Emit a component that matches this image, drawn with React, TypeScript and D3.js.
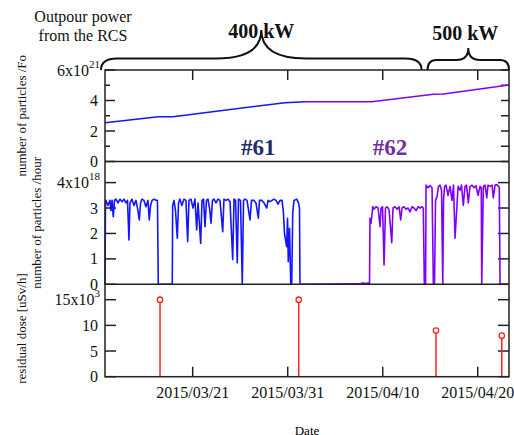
import { useEffect, useRef } from "react";
import * as d3 from "d3";

// time axis: days counted from 2015-03-01 00:00
const dayRange = [10.77, 53.29];
const tickDates = ["2015/03/21", "2015/03/31", "2015/04/10", "2015/04/20"];

// accumulated particles (x10^21)
const cumul61 = [[10.77, 2.54], [16.38, 2.94], [17.93, 2.94], [29.72, 3.86], [31.82, 3.92]];
const cumul62 = [[31.82, 3.92], [38.84, 3.92], [45.33, 4.41], [46.38, 4.43], [53.29, 5.02]];

// particles per hour (x10^18)
const rate61 = [
  [10.77, 0], [10.82, 3.2], [10.87, 3.3], [11.08, 3.1], [11.29, 3.3], [11.4, 2.9], [11.51, 3.3], [11.64, 2.66],
  [11.77, 3.3], [11.93, 3.35], [12.14, 3.2], [12.35, 3.35], [12.56, 3.25], [12.77, 3.35], [12.98, 3.2], [13.14, 3.3],
  [13.29, 1.74], [13.4, 3.2], [13.61, 3.35], [13.82, 3.1], [14.03, 3.3], [14.24, 2.9], [14.38, 2.53], [14.51, 3.2],
  [14.66, 3.35], [14.87, 3.3], [15.08, 3.05], [15.29, 3.3], [15.43, 2.53], [15.56, 3.1], [15.72, 3.3], [15.93, 3.35],
  [16.14, 3.3], [16.29, 3.3], [16.38, 0], [17.85, 0], [17.89, 3.1], [18.03, 3.3], [18.19, 2.9], [18.38, 1.81],
  [18.51, 3.2], [18.66, 3.35], [18.87, 3.1], [19.08, 3.35], [19.29, 3.3], [19.47, 1.68], [19.61, 3.3], [19.82, 3.35],
  [20.03, 3.0], [20.24, 3.35], [20.42, 2.14], [20.56, 3.2], [20.84, 1.61], [20.98, 3.3], [21.14, 3.35], [21.29, 2.27],
  [21.45, 3.3], [21.61, 3.35], [21.77, 3.0], [21.93, 2.4], [22.08, 3.3], [22.24, 3.35], [22.45, 3.2], [22.66, 3.35],
  [22.87, 3.3], [23.16, 2.07], [23.29, 3.35], [23.51, 3.3], [23.72, 3.35], [23.93, 3.25], [24.21, 0.98], [24.35, 3.35],
  [24.51, 3.3], [24.69, 0.85], [24.82, 3.35], [25.03, 3.3], [25.22, 0], [25.35, 3.3], [25.51, 3.35], [25.72, 3.3],
  [26.03, 2.53], [26.19, 3.3], [26.45, 3.3], [26.66, 3.2], [26.91, 2.6], [27.03, 3.3], [27.29, 3.3], [27.51, 3.2],
  [27.79, 3.0], [27.93, 3.3], [28.14, 3.25], [28.35, 3.3], [28.56, 3.35], [28.77, 3.3], [28.98, 3.15], [29.19, 3.3],
  [29.4, 3.3], [29.54, 2.86], [29.66, 2.0], [29.89, 1.48], [29.98, 2.6], [30.06, 0.89], [30.19, 2.2], [30.32, 0],
  [30.42, 0], [30.53, 2.8], [30.66, 3.3], [30.95, 3.35], [31.14, 3.2], [31.24, 3.0], [31.29, 0],
];
const rate62 = [
  [31.29, 0], [34.45, 0.01], [36.56, 0.02], [37.61, 0.02], [37.93, 0.05], [38.24, 0.03], [38.45, 0.05], [38.61, 0.02],
  [38.66, 2.6], [38.77, 2.4], [38.95, 3.06], [39.08, 2.95], [39.29, 3.05], [39.51, 3.0], [39.72, 2.27], [39.82, 3.0],
  [39.98, 3.05], [40.14, 0.76], [40.29, 3.0], [40.45, 3.05], [40.66, 2.95], [40.95, 1.64], [41.08, 3.0], [41.29, 3.05],
  [41.51, 2.95], [41.72, 3.05], [41.89, 2.53], [42.03, 3.0], [42.24, 3.05], [42.45, 2.95], [42.66, 3.0], [42.87, 2.85],
  [43.08, 3.05], [43.29, 3.0], [43.51, 2.9], [43.72, 3.05], [43.93, 3.0], [44.14, 3.05], [44.27, 3.0], [44.38, 0],
  [44.51, 0], [44.56, 3.9], [44.77, 3.8], [44.98, 3.88], [45.19, 3.8], [45.33, 0], [45.45, 0], [45.56, 3.3],
  [45.72, 3.45], [45.87, 3.85], [46.03, 3.9], [46.19, 3.7], [46.32, 0], [46.4, 3.3], [46.51, 3.85], [46.66, 3.9],
  [46.87, 3.5], [47.08, 3.85], [47.29, 3.3], [47.45, 3.9], [47.61, 1.81], [47.79, 2.95], [47.93, 3.85], [48.14, 3.7],
  [48.29, 3.9], [48.48, 3.1], [48.66, 3.85], [48.82, 3.9], [49.01, 3.2], [49.19, 3.85], [49.4, 3.9], [49.61, 3.8],
  [49.82, 3.88], [50.03, 3.5], [50.24, 3.85], [50.37, 3.8], [50.42, 0], [50.59, 3.85], [50.77, 3.9], [50.95, 3.4],
  [51.08, 3.9], [51.29, 3.85], [51.51, 3.9], [51.64, 3.4], [51.82, 3.9], [52.03, 3.92], [52.19, 3.85], [52.27, 3.8],
  [52.35, 0], [53.29, 0],
];

// residual dose (x10^3 uSv/h)
const doseDays = [16.56, 31.16, 45.61, 52.53];
const doseValues = [15, 15, 9, 8];

// power periods
const powerLabels = ["400 kW", "500 kW"];
const powerSpans = [[10.77, 44.4], [44.4, 53.29]];

// run labels
const runLabels = ["#61", "#62"];
const runDays = [26.9, 40.77];

// y ticks
const topTicks = [0, 2, 4, 6];
const topMinor = [1, 3, 5];
const midTicks = [0, 1, 2, 3, 4];
const botTicks = [0, 5, 10, 15];

const App = () => {
  const svgRef = useRef<SVGSVGElement>(null);

  useEffect(() => {
    const svg = d3.select(svgRef.current);
    svg.selectAll("*").remove();

    const font = "'Liberation Serif', 'Times New Roman', serif";
    const left = 105;
    const right = 509;
    const yT = 70, yM = 161.5, yB = 284.3, yE = 376.7;

    const base = new Date(2015, 2, 1).getTime();
    const toDate = (d: number) => new Date(base + d * 864e5);
    const parse = d3.timeParse("%Y/%m/%d");
    const fmt = d3.timeFormat("%Y/%m/%d");

    const x = d3.scaleTime().domain(dayRange.map(toDate)).range([left, right]);
    const yTop = d3.scaleLinear().domain([0, 6]).range([yM, yT]);
    const yMid = d3.scaleLinear().domain([0, 4.83]).range([yB, yM]);
    const yBot = d3.scaleLinear().domain([0, 18]).range([yE, yB]);

    const axisColor = "#222";

    // ticks
    const tickLine = (x1: number, y1: number, x2: number, y2: number) =>
      svg.append("line").attr("x1", x1).attr("y1", y1).attr("x2", x2).attr("y2", y2)
        .attr("stroke", axisColor).attr("stroke-width", 1.5);

    topTicks.forEach((v) => { tickLine(left, yTop(v), left + 10, yTop(v)); });
    topMinor.forEach((v) => { tickLine(left, yTop(v), left + 5, yTop(v)); });
    [...topTicks, ...topMinor].forEach((v) => { tickLine(right, yTop(v), right - 8, yTop(v)); });
    midTicks.forEach((v) => {
      tickLine(left, yMid(v), left + 11, yMid(v));
      tickLine(right, yMid(v), right - 11, yMid(v));
    });
    botTicks.forEach((v) => {
      tickLine(left, yBot(v), left + 11, yBot(v));
      tickLine(right, yBot(v), right - 11, yBot(v));
    });
    tickDates.forEach((t) => {
      const px = x(parse(t) as Date);
      tickLine(px, yT, px, yT + 10);
      tickLine(px, yE, px, yE - 10);
    });

    // y tick labels
    const yLabels = (ticks: number[], scale: d3.ScaleLinear<number, number>, exp: string) => {
      ticks.forEach((v, i) => {
        const last = i === ticks.length - 1;
        const t = svg.append("text")
          .attr("x", last ? 100 : 98)
          .attr("y", scale(v) + 5.5)
          .attr("text-anchor", "end")
          .attr("font-family", font)
          .attr("font-size", 16)
          .attr("fill", "#111");
        if (last) {
          t.append("tspan").text(`${v}x10`);
          t.append("tspan").attr("font-size", 11).attr("dy", -8).text(exp);
        } else {
          t.text(String(v));
        }
      });
    };
    yLabels(topTicks, yTop, "21");
    yLabels(midTicks, yMid, "18");
    yLabels(botTicks, yBot, "3");

    // x tick labels
    tickDates.forEach((t) => {
      svg.append("text")
        .attr("x", x(parse(t) as Date))
        .attr("y", 398)
        .attr("text-anchor", "middle")
        .attr("font-family", font)
        .attr("font-size", 16)
        .attr("fill", "#111")
        .text(fmt(parse(t) as Date));
    });

    // axis titles
    svg.append("text")
      .attr("x", 307).attr("y", 435)
      .attr("text-anchor", "middle")
      .attr("font-family", font).attr("font-size", 13)
      .text("Date");

    const yTitle = (txt: string, cx: number, cy: number) =>
      svg.append("text")
        .attr("transform", `translate(${cx},${cy}) rotate(-90)`)
        .attr("text-anchor", "middle")
        .attr("font-family", font).attr("font-size", 13)
        .attr("fill", "#111")
        .text(txt);
    yTitle("number of particles /Fo", 26, (yT + yM) / 2);
    yTitle("number of particles /hour", 41, (yM + yB) / 2);
    yTitle("residual dose [uSv/h]", 26, (yB + yE) / 2 - 2);

    // accumulated line
    const lineTop = d3.line<number[]>().x((d) => x(toDate(d[0]))).y((d) => yTop(d[1]));
    svg.append("path").datum(cumul61).attr("fill", "none").attr("stroke", "#1414ff")
      .attr("stroke-width", 1.5).attr("d", lineTop);
    svg.append("path").datum(cumul62).attr("fill", "none").attr("stroke", "#8000ff")
      .attr("stroke-width", 1.5).attr("d", lineTop);

    // rate lines
    const lineMid = d3.line<number[]>().x((d) => x(toDate(d[0]))).y((d) => yMid(d[1]));
    svg.append("path").datum(rate61).attr("fill", "none").attr("stroke", "#1414ff")
      .attr("stroke-width", 1.6).attr("stroke-linejoin", "round").attr("d", lineMid);
    svg.append("path").datum(rate62).attr("fill", "none").attr("stroke", "#8000ff")
      .attr("stroke-width", 1.6).attr("stroke-linejoin", "round").attr("d", lineMid);

    // residual dose stems
    doseDays.forEach((d, i) => {
      const px = x(toDate(d));
      svg.append("line")
        .attr("x1", px).attr("x2", px)
        .attr("y1", yBot(0)).attr("y2", yBot(doseValues[i]))
        .attr("stroke", "#ff2020").attr("stroke-width", 1.5);
      svg.append("circle")
        .attr("cx", px).attr("cy", yBot(doseValues[i])).attr("r", 2.7)
        .attr("fill", "#fff").attr("stroke", "#ff2020").attr("stroke-width", 1.3);
    });

    // frame
    svg.append("rect").attr("x", left).attr("y", yT)
      .attr("width", right - left).attr("height", yE - yT)
      .attr("fill", "none").attr("stroke", axisColor).attr("stroke-width", 1.5);
    [yM, yB].forEach((yy) => {
      svg.append("line").attr("x1", left).attr("x2", right).attr("y1", yy).attr("y2", yy)
        .attr("stroke", axisColor).attr("stroke-width", 1.5);
    });

    // run labels
    runLabels.forEach((lab, i) => {
      svg.append("text")
        .attr("x", x(toDate(runDays[i])))
        .attr("y", 155)
        .attr("text-anchor", "middle")
        .attr("font-family", font).attr("font-size", 23).attr("font-weight", "bold")
        .attr("fill", i === 0 ? "#1b2f6e" : "#7030a0")
        .text(lab);
    });

    // power braces
    const brace = (x0: number, x1: number, yBase: number, yMidB: number, yTip: number, r: number, r2: number) => {
      const xc = (x0 + x1) / 2;
      return `M${x0},${yBase} Q${x0},${yMidB} ${x0 + r},${yMidB} L${xc - r2},${yMidB} Q${xc},${yMidB} ${xc},${yTip}` +
        ` Q${xc},${yMidB} ${xc + r2},${yMidB} L${x1 - r},${yMidB} Q${x1},${yMidB} ${x1},${yBase}`;
    };
    const braceShape = [
      { base: 70, mid: 58.5, tip: 30, r: 16, r2: 45, dx: 0 },
      { base: 70, mid: 60, tip: 48, r: 9, r2: 12, dx: -3 },
    ];
    powerSpans.forEach((s, i) => {
      const x0 = i === 0 ? x(toDate(s[0])) - 4 : x(toDate(s[0])) + 3;
      const x1 = i === 0 ? x(toDate(s[1])) - 3 : x(toDate(s[1]));
      const b = braceShape[i];
      svg.append("path")
        .attr("d", brace(x0, x1, b.base, b.mid, b.tip, b.r, b.r2))
        .attr("fill", "none").attr("stroke", "#111").attr("stroke-width", 2);
      svg.append("text")
        .attr("x", (x0 + x1) / 2 + b.dx)
        .attr("y", i === 0 ? 38 : 40)
        .attr("text-anchor", "middle")
        .attr("font-family", font).attr("font-size", 20).attr("font-weight", "bold")
        .attr("fill", "#111")
        .text(powerLabels[i]);
    });

    // power note
    const note = svg.append("text")
      .attr("text-anchor", "middle")
      .attr("font-family", font).attr("font-size", 16).attr("fill", "#111");
    note.append("tspan").attr("x", 83).attr("y", 22).text("Outpour power");
    note.append("tspan").attr("x", 83).attr("y", 40.5).text("from the RCS");
  }, []);

  return (
    <svg
      ref={svgRef}
      width={514}
      height={435}
      style={{ position: "absolute", left: 0, top: 0, background: "#fff" }}
    ></svg>
  );
};

export default App;
